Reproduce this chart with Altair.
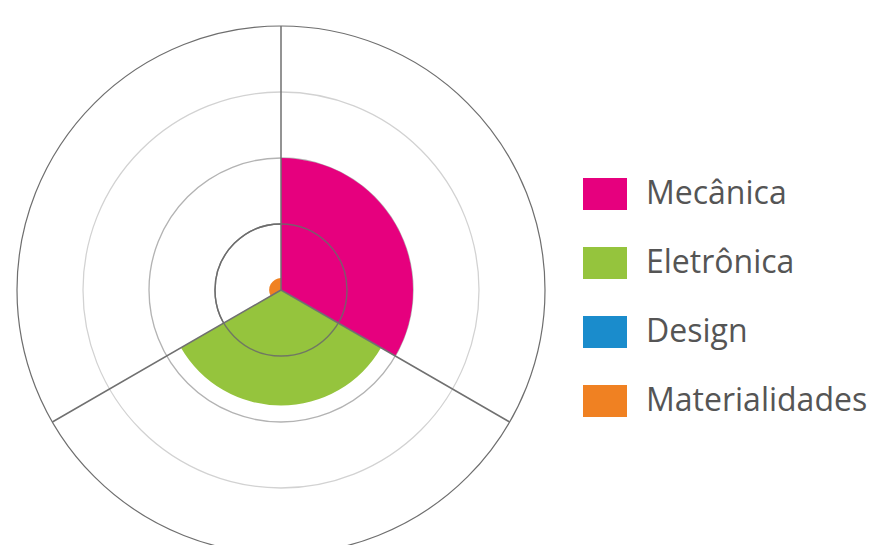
import math
import altair as alt
import pandas as pd

# ---- data ----
categorias = ["Mecânica", "Eletrônica", "Design", "Materialidades"]
valores = [2.0, 1.75, 0.0, 0.18]
setor_inicio = [0, 1, 2, 2]
setor_fim = [1, 2, 3, 3]
cores = ["#e6007e", "#95c43d", "#1a8ccc", "#f08122"]
aneis = [1, 2, 3, 4]
divisoes = [0, 1, 2]

df = pd.DataFrame({"categoria": categorias, "valor": valores,
                   "ini": setor_inicio, "fim": setor_fim})
grade_df = pd.DataFrame({"anel": aneis, "ini": [0] * 4, "fim": [3] * 4})
anel_interno_df = grade_df[grade_df["anel"] == 1]
raios_df = pd.DataFrame({"pos": divisoes, "r": [4] * len(divisoes)})

theta_scale = alt.Scale(domain=[0, 3], range=[0, 2 * math.pi])
r_scale = alt.Scale(type="linear", domain=[0, 4], range=[0, 264])
cx = alt.value(281)
cy = alt.value(290)

grade = alt.Chart(grade_df).mark_arc(filled=False, fill="transparent").encode(
    x=cx, y=cy,
    theta=alt.Theta("ini:Q", scale=theta_scale, stack=None),
    theta2="fim:Q",
    radius=alt.Radius("anel:Q", scale=r_scale),
    stroke=alt.Stroke("anel:O", scale=alt.Scale(domain=aneis,
                      range=["#7a7a7a", "#b3b3b3", "#d2d2d2", "#6e6e6e"]), legend=None),
    strokeWidth=alt.StrokeWidth("anel:O", scale=alt.Scale(domain=aneis,
                      range=[1.4, 1.2, 1.2, 1.8]), legend=None),
)

fatias = alt.Chart(df).mark_arc(strokeWidth=0).encode(
    x=cx, y=cy,
    theta=alt.Theta("ini:Q", scale=theta_scale, stack=None),
    theta2="fim:Q",
    radius=alt.Radius("valor:Q", scale=r_scale),
    color=alt.Color("categoria:N",
                    scale=alt.Scale(domain=categorias, range=cores),
                    legend=alt.Legend(title=None, orient="none", legendX=583, legendY=172,
                                      symbolType="M-1,-0.727H1V0.727H-1Z", symbolSize=1936,
                                      symbolStrokeWidth=0, symbolOpacity=1,
                                      labelFontSize=32, labelFont="Open Sans",
                                      labelColor="#555555", labelOffset=19,
                                      labelLimit=400,
                                      rowPadding=31, padding=0)),
)

anel_interno = alt.Chart(anel_interno_df).mark_arc(
    filled=False, fill="transparent", stroke="#6a6a6a", strokeWidth=1.4, strokeOpacity=0.85
).encode(
    x=cx, y=cy,
    theta=alt.Theta("ini:Q", scale=theta_scale, stack=None),
    theta2="fim:Q",
    radius=alt.Radius("anel:Q", scale=r_scale),
)

raios = alt.Chart(raios_df).mark_arc(
    filled=False, fill="transparent", stroke="#707070", strokeWidth=1.5
).encode(
    x=cx, y=cy,
    theta=alt.Theta("pos:Q", scale=theta_scale, stack=None),
    theta2="pos:Q",
    radius=alt.Radius("r:Q", scale=r_scale),
)

chart = alt.layer(grade, fatias, anel_interno, raios).resolve_scale(
    stroke="independent", strokeWidth="independent"
).properties(
    width=876, height=545, padding=0,
    autosize=alt.AutoSizeParams(type="none"),
).configure_view(strokeWidth=0)

chart.save("out.html", embed_options={"renderer": "svg", "actions": False})
